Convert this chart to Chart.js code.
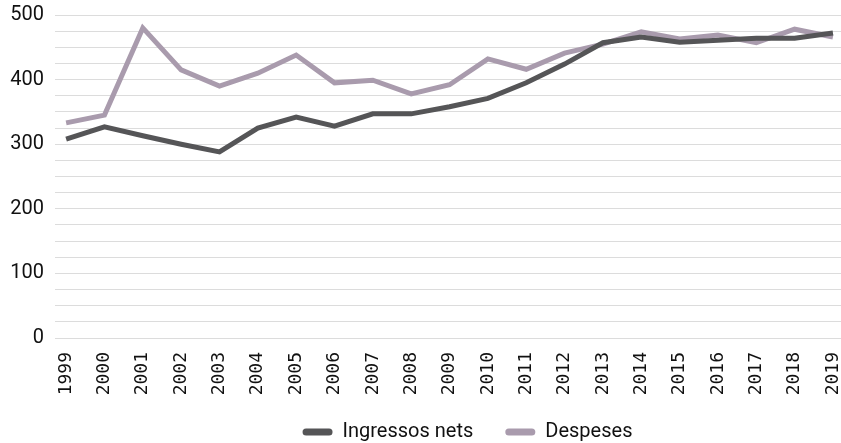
<!DOCTYPE html>
<html>
<head>
    <title>Ingressos i despeses</title>
    <script src="https://cdn.jsdelivr.net/npm/chart.js@4.4.1/dist/chart.umd.min.js"></script>
    <style>
        body {
            margin: 0;
            padding: 0;
            background: #ffffff;
        }
        #chartContainer {
            width: 841px;
            height: 443px;
        }
    </style>
</head>
<body>
    <div id="chartContainer">
        <canvas id="lineChart"></canvas>
    </div>

    <script>
        // data
        const years = [1999, 2000, 2001, 2002, 2003, 2004, 2005, 2006, 2007, 2008, 2009,
                       2010, 2011, 2012, 2013, 2014, 2015, 2016, 2017, 2018, 2019];
        const ingressos = [308, 327, 313, 300, 288, 325, 342, 328, 347, 347, 358,
                           371, 395, 424, 457, 466, 458, 461, 464, 464, 472];
        const despeses = [333, 345, 480, 415, 390, 410, 438, 395, 399, 378, 392,
                          432, 416, 441, 455, 474, 463, 469, 457, 478, 466];
        const yTicks = [0, 100, 200, 300, 400, 500];

        const darkGrey = '#555557';
        const lilac = '#a99bad';

        function points(values) {
            return values.map(function (v, i) { return { x: years[i], y: v }; });
        }

        // nudge the legend: a bit higher and right of centre, like the original
        const legendShift = {
            id: 'legendShift',
            afterLayout: function (chart) {
                chart.legend.top -= 8;
                chart.legend.left += 47;
                chart.legend.right += 47;
            }
        };

        var ctx = document.getElementById('lineChart').getContext('2d');

        var chart = new Chart(ctx, {
            type: 'line',
            data: {
                datasets: [{
                    label: 'Ingressos nets',
                    data: points(ingressos),
                    borderColor: darkGrey,
                    backgroundColor: darkGrey,
                    borderWidth: 5,
                    pointRadius: 0,
                    tension: 0,
                    order: 1
                }, {
                    label: 'Despeses',
                    data: points(despeses),
                    borderColor: lilac,
                    backgroundColor: lilac,
                    borderWidth: 5,
                    pointRadius: 0,
                    tension: 0,
                    order: 2
                }]
            },
            plugins: [legendShift],
            options: {
                responsive: true,
                maintainAspectRatio: false,
                animation: false,
                layout: {
                    padding: { top: 15, right: 0, left: 0, bottom: 0 }
                },
                plugins: {
                    tooltip: { enabled: false },
                    legend: {
                        position: 'bottom',
                        maxHeight: 45,
                        labels: {
                            color: '#111111',
                            font: { family: 'Roboto', size: 20 },
                            boxWidth: 30,
                            boxHeight: 7,
                            useBorderRadius: true,
                            borderRadius: 3.5,
                            padding: 32,
                            generateLabels: function (c) {
                                var items = Chart.defaults.plugins.legend.labels.generateLabels(c);
                                items.forEach(function (it) { it.lineWidth = 0; });
                                return items;
                            }
                        }
                    }
                },
                scales: {
                    x: {
                        type: 'linear',
                        min: 1998.71,
                        max: 2019.21,
                        border: { display: false },
                        grid: { display: false },
                        afterBuildTicks: function (scale) {
                            scale.ticks = years.map(function (y) { return { value: y }; });
                        },
                        afterFit: function (scale) {
                            scale.paddingLeft = 0;
                            scale.paddingRight = 0;
                            scale.height = 60;
                        },
                        ticks: {
                            autoSkip: false,
                            minRotation: 90,
                            maxRotation: 90,
                            padding: 6,
                            color: '#111111',
                            font: { family: 'DejaVu Sans Mono', size: 18 },
                            callback: function (value) { return String(value); }
                        }
                    },
                    y: {
                        min: 0,
                        max: 500,
                        border: { display: false },
                        grid: {
                            color: '#dcdcdc',
                            lineWidth: 1,
                            drawTicks: false
                        },
                        afterBuildTicks: function (scale) {
                            var t = [];
                            for (var v = 0; v <= 500; v += 25) t.push({ value: v });
                            scale.ticks = t;
                        },
                        afterFit: function (scale) {
                            scale.width = 55;
                            scale.paddingTop = 0;
                            scale.paddingBottom = 0;
                        },
                        ticks: {
                            autoSkip: false,
                            padding: 11,
                            color: '#111111',
                            font: { family: 'Roboto', size: 20 },
                            callback: function (value) {
                                return yTicks.indexOf(value) >= 0 ? String(value) : '';
                            }
                        }
                    }
                }
            }
        });
    </script>
</body>
</html>
